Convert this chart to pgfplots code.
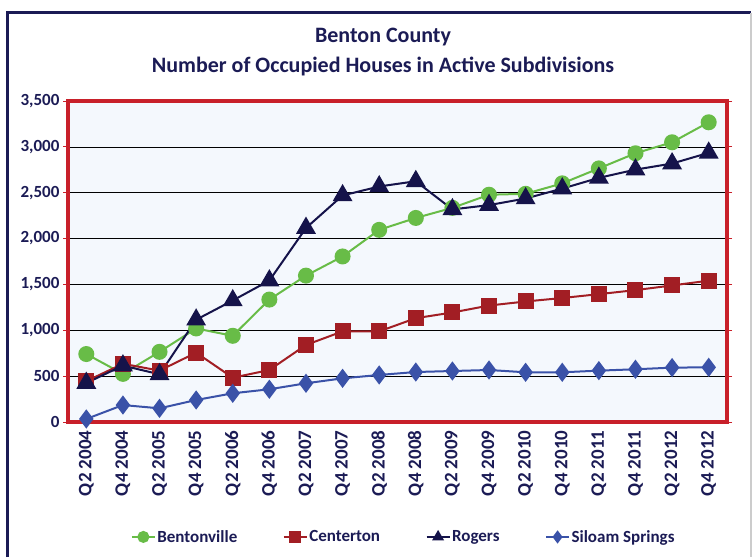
\documentclass[border=0pt]{standalone}
\usepackage{pgfplots}
\pgfplotsset{compat=1.18}
\usepackage{fontspec}
\setmainfont{Carlito}
\definecolor{navy}{HTML}{1B1B55}
\definecolor{cgreen}{HTML}{68BC47}
\definecolor{cred}{HTML}{A21E24}
\definecolor{crog}{HTML}{15134A}
\definecolor{cblue}{HTML}{3A52A8}
\definecolor{frame}{HTML}{C8202A}
\definecolor{bgblue}{HTML}{F4F8FD}
\begin{document}
\begin{tikzpicture}[x=1pt,y=1pt]
\useasboundingbox (0,0) rectangle (754,557);
\fill[white] (0,0) rectangle (754,557);
\draw[navy, line width=3pt] (7,0) -- (7,544) -- (751,544);
\draw[gray!40, line width=1.2pt] (751,544) -- (751,0);
\node[font=\bfseries\fontsize{22}{26}\selectfont, text=navy, anchor=base] at (383,514) {Benton County};
\node[font=\bfseries\fontsize{22}{26}\selectfont, text=navy, anchor=base] at (383,484) {Number of Occupied Houses in Active Subdivisions};
\begin{axis}[
  at={(68pt,135pt)}, anchor=south west,
  scale only axis, width=659pt, height=321pt,
  xmin=-0.5, xmax=17.5, ymin=0, ymax=3500,
  axis background/.style={fill=bgblue},
  axis line style={frame, line width=3.2pt},
  ytick={0,500,...,3500},
  xtick={0,...,17},
  xticklabels={Q2 2004,Q4 2004,Q2 2005,Q4 2005,Q2 2006,Q4 2006,Q2 2007,Q4 2007,Q2 2008,Q4 2008,Q2 2009,Q4 2009,Q2 2010,Q4 2010,Q2 2011,Q4 2011,Q2 2012,Q4 2012},
  x tick label style={rotate=90, anchor=east, font=\bfseries\fontsize{19}{21}\selectfont, text=navy},
  y tick label style={font=\bfseries\fontsize{17}{19}\selectfont, text=navy},
  /pgf/number format/assume math mode=true,
  /pgf/number format/1000 sep={,},
  scaled y ticks=false,
  tick align=outside, tick style={frame, line width=1pt},
  major tick length=5pt,
  xtick style={draw=none},
  ymajorgrids, grid style={black, line width=0.7pt},
  legend style={at={(0.509,-0.358)}, anchor=center, draw=none, fill=none,
    legend columns=4, font=\bfseries\fontsize{17}{19}\selectfont, text=navy,
    /tikz/every even column/.append style={column sep=44pt},
    nodes={inner xsep=1.5pt}},
  legend cell align=left,
  legend image code/.code={\draw[mark repeat=2, mark phase=2, line width=2pt, mark size=5pt] plot coordinates {(0pt,0pt) (11.5pt,0pt) (23pt,0pt)};},
  clip=false,
]
\addplot[cgreen, line width=2pt, mark=*, mark size=7pt, mark options={solid, fill=cgreen, draw=cgreen}] coordinates {
(0,741)(1,525)(2,765)(3,1020)(4,940)(5,1335)(6,1596)(7,1805)(8,2095)(9,2225)(10,2335)(11,2478)(12,2488)(13,2602)(14,2765)(15,2930)(16,3050)(17,3268)};
\addlegendentry{Bentonville}
\addplot[cred, line width=2pt, mark=square*, mark size=7pt, mark options={solid, fill=cred, draw=cred}] coordinates {
(0,445)(1,635)(2,560)(3,756)(4,483)(5,567)(6,840)(7,988)(8,988)(9,1132)(10,1194)(11,1270)(12,1314)(13,1352)(14,1394)(15,1438)(16,1489)(17,1541)};
\addlegendentry{Centerton}
\addplot[crog, line width=2pt, mark=triangle*, mark size=9.5pt, mark options={solid, fill=crog, draw=crog}] coordinates {
(0,425)(1,615)(2,520)(3,1115)(4,1325)(5,1542)(6,2115)(7,2470)(8,2568)(9,2625)(10,2318)(11,2365)(12,2437)(13,2545)(14,2662)(15,2752)(16,2818)(17,2935)};
\addlegendentry{Rogers}
\addplot[cblue, line width=2pt, mark=diamond*, mark size=8pt, mark options={solid, fill=cblue, draw=cblue}] coordinates {
(0,33)(1,185)(2,149)(3,240)(4,313)(5,357)(6,422)(7,476)(8,513)(9,545)(10,556)(11,567)(12,542)(13,542)(14,560)(15,575)(16,593)(17,596)};
\addlegendentry{Siloam Springs}
\end{axis}
\end{tikzpicture}
\end{document}
